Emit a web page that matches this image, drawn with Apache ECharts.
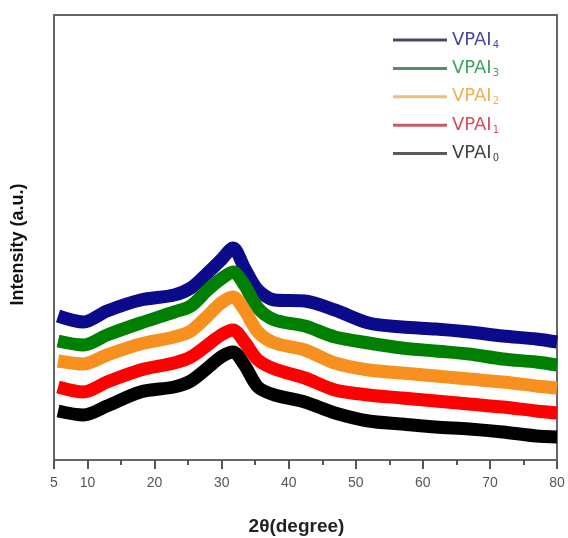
<!DOCTYPE html>
<html><head><meta charset="utf-8">
<script src="https://cdn.jsdelivr.net/npm/echarts@6/dist/echarts.min.js"></script>
<style>html,body{margin:0;padding:0;background:#fff}#c{width:568px;height:538px}</style>
</head><body><div id="c"></div>
<script>
// 2θ positions (degree) where values were read
const twoTheta = [5.6, 9.4, 12.9, 17.9, 22.9, 25.4, 27.9, 29.9, 31.7, 33.4, 35.4, 37.9, 42.4, 46.9, 51.9, 56.9, 61.9, 66.9, 71.9, 76.9, 80];
// Intensity (a.u.), stacked curves
const vpai4 = [144,138,149,160,165,172,187,200,212,192,170,160,159,150,137,133,131,128,124,121,118];
const vpai3 = [119,115,125,137,148,154,170,181,188,175,152,140,134,123,117,112,109,106,101,98,95];
const vpai2 = [99,96,105,116,123,129,144,157,163,150,128,117,110,97,90,87,84,81,78,74,72];
const vpai1 = [73,68,78,90,97,103,115,125,130,118,100,91,82,70,65,62,59,56,53,49,47];
const vpai0 = [49,45,54,68,73,79,92,103,108,95,73,65,58,47,39,36,33,31,28,24,23];
const seriesNames = ['VPAI4','VPAI3','VPAI2','VPAI1','VPAI0'];
const subscripts = ['4','3','2','1','0'];
const seriesData = [vpai4, vpai3, vpai2, vpai1, vpai0];
const lineColors = ['#0a0a8a','#008000','#f7901e','#ff0000','#000000'];
const legendLineColors = ['#4a4a66','#5a8a66','#e6c080','#c85a68','#5a5a5a'];
const legendTextColors = ['#4848a0','#40a060','#f0b050','#e04858','#444444'];
const xLabelValues = [5,10,20,30,40,50,60,70,80];
const xMinorTicks = [15,25,35,45,55,65,75];

const chart = echarts.init(document.getElementById('c'));
const series = seriesNames.map((n,i)=>({
  name:n, type:'line', smooth:0.3, showSymbol:false, symbol:'none',
  data: twoTheta.map((x,j)=>[x, seriesData[i][j]]),
  lineStyle:{color:lineColors[i], width:13},
  itemStyle:{color:legendLineColors[i]},
  z: 2+i
}));
const legends = seriesNames.map((n,i)=>({
  data:[{name:n, itemStyle:{color:legendLineColors[i]}}],
  left:393, top:29+i*28.4, padding:0,
  icon:'rect', itemWidth:54, itemHeight:3, itemGap:3,
  selectedMode:false,
  formatter: ()=>'{b|VPAI}{s|'+subscripts[i]+'}',
  textStyle:{rich:{
    b:{fontFamily:'DejaVu Sans, Verdana, sans-serif', fontSize:18, color:legendTextColors[i], lineHeight:20},
    s:{fontFamily:'DejaVu Sans, Verdana, sans-serif', fontSize:10, color:legendTextColors[i], verticalAlign:'bottom', lineHeight:20, padding:[11,0,0,1]}
  }}
}));
chart.setOption({
  animation:false,
  backgroundColor:'#fff',
  grid:{left:54, right:11, top:15, bottom:78, outerBoundsMode:'none', containLabel:false, show:true, borderColor:'#666', borderWidth:2},
  legend: legends,
  xAxis:[{
    type:'value', min:5, max:80,
    name:'2θ(degree)', nameLocation:'middle', nameGap:57,
    nameTextStyle:{fontFamily:'Liberation Sans, Arial, sans-serif', fontSize:19, fontWeight:'bold', color:'#222', padding:[0,18,0,0]},
    axisLine:{show:true, lineStyle:{color:'#666', width:2}},
    axisTick:{show:true, length:9, inside:false, customValues:xLabelValues, lineStyle:{color:'#555', width:2}},
    axisLabel:{show:true, customValues:xLabelValues, margin:16, fontFamily:'Liberation Sans, Arial, sans-serif', fontSize:14, color:'#555'},
    splitLine:{show:false}
  },{
    type:'value', min:5, max:80, position:'bottom',
    axisLine:{show:false},
    axisTick:{show:true, length:5, customValues:xMinorTicks, lineStyle:{color:'#555', width:2}},
    axisLabel:{show:false}, splitLine:{show:false}
  }],
  yAxis:{
    type:'value', min:0, max:445,
    name:'Intensity (a.u.)', nameLocation:'middle', nameGap:27,
    nameTextStyle:{fontFamily:'Liberation Sans, Arial, sans-serif', fontSize:18, fontWeight:'bold', color:'#111', padding:[0,14,0,0]},
    axisLine:{show:true, lineStyle:{color:'#666', width:2}},
    axisTick:{show:false}, axisLabel:{show:false}, splitLine:{show:false}
  },
  series: series
});
</script></body></html>
